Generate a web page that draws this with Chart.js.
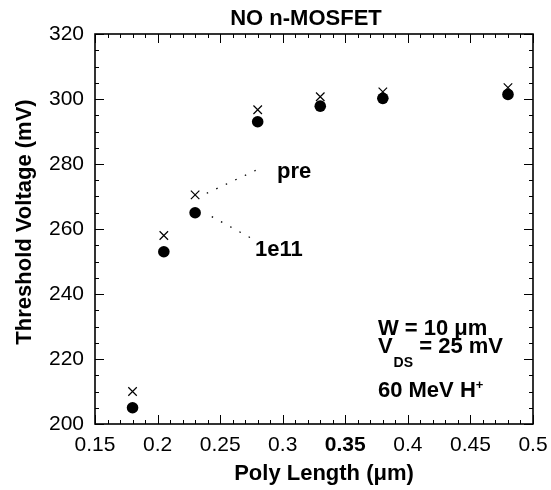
<!DOCTYPE html>
<html><head><meta charset="utf-8">
<script src="https://cdn.jsdelivr.net/npm/chart.js@4.4.1/dist/chart.umd.min.js"></script>
<style>html,body{margin:0;padding:0;background:#fff}#wrap{width:551px;height:490px}</style>
</head><body><div id="wrap"><canvas id="c" width="551" height="490"></canvas></div>
<script>
// ---- data ----
const polyLength = [0.18, 0.205, 0.23, 0.28, 0.33, 0.38, 0.48];
const vthPre     = [210, 258, 270.5, 296.7, 300.7, 302.2, 303.5];
const vth1e11    = [205, 253, 265, 293, 297.8, 300.2, 301.4];
const xTickValues = [0.15, 0.2, 0.25, 0.3, 0.35, 0.4, 0.45, 0.5];
const yTickValues = [200, 220, 240, 260, 280, 300, 320];
const preLeaderX  = [0.2393, 0.281];
const preLeaderY  = [271, 278.5];
const doseLeaderX = [0.2433, 0.2752];
const doseLeaderY = [263.8, 257.1];
const titleText = 'NO n-MOSFET';
const xTitle = 'Poly Length (\u03bcm)';
const yTitle = 'Threshold Voltage (mV)';

const FAM = '"Liberation Sans", Arial, Helvetica, sans-serif';
const toPts = (xs, ys) => xs.map((x, i) => ({x: x, y: ys[i]}));

const framePlugin = {
  id: 'frame',
  afterDraw(chart) {
    const ctx = chart.ctx, a = chart.chartArea;
    const xs = chart.scales.x, ys = chart.scales.y;
    ctx.save();
    ctx.strokeStyle = '#000';
    ctx.lineWidth = 1;
    ctx.beginPath();
    for (let i = 0; i <= 35; i++) {
      const v = 0.15 + i * 0.01;
      const px = Math.round(xs.getPixelForValue(v)) + 0.5;
      const len = (i % 5 === 0) ? 9 : 4;
      ctx.moveTo(px, a.bottom); ctx.lineTo(px, a.bottom - len);
      ctx.moveTo(px, a.top); ctx.lineTo(px, a.top + len);
    }
    for (let i = 0; i <= 24; i++) {
      const v = 200 + i * 5;
      const py = Math.round(ys.getPixelForValue(v)) + 0.5;
      const len = (i % 4 === 0) ? 9 : 4;
      ctx.moveTo(a.left, py); ctx.lineTo(a.left + len, py);
      ctx.moveTo(a.right, py); ctx.lineTo(a.right - len, py);
    }
    ctx.stroke();
    ctx.lineWidth = 1.6;
    ctx.strokeRect(a.left, a.top, a.right - a.left, a.bottom - a.top);

    ctx.fillStyle = '#000';
    ctx.font = 'bold 22px ' + FAM;
    ctx.textAlign = 'center'; ctx.textBaseline = 'alphabetic';
    ctx.fillText(titleText, 306, 25);
    ctx.fillText(xTitle, 324, 480);
    ctx.save();
    ctx.translate(31, 222); ctx.rotate(-Math.PI / 2);
    ctx.fillText(yTitle, 0, 0);
    ctx.restore();

    ctx.textAlign = 'left';
    const P = (x, y) => [xs.getPixelForValue(x), ys.getPixelForValue(y)];
    let p;
    p = P(0.2954, 275.6); ctx.fillText('pre', p[0], p[1]);
    p = P(0.2779, 251.7); ctx.fillText('1e11', p[0], p[1]);
    p = P(0.3761, 227.4); ctx.fillText('W = 10 \u03bcm', p[0], p[1]);
    p = P(0.3761, 221.75);
    ctx.fillText('V', p[0], p[1]);
    let w = ctx.measureText('V').width;
    ctx.font = 'bold 14px ' + FAM;
    ctx.fillText('DS', p[0] + w + 1, p[1] + 14);
    const w2 = ctx.measureText('DS').width;
    ctx.font = 'bold 22px ' + FAM;
    ctx.fillText(' = 25 mV', p[0] + w + w2 + 1, p[1]);
    p = P(0.3761, 208.4);
    ctx.fillText('60 MeV H', p[0], p[1]);
    w = ctx.measureText('60 MeV H').width;
    ctx.font = 'bold 13px ' + FAM;
    ctx.fillText('+', p[0] + w, p[1] - 8);
    ctx.restore();
  }
};

const tickFont = (ctx) => ({
  family: FAM, size: 21,
  weight: (ctx.tick && Math.abs(ctx.tick.value - 0.35) < 1e-6) ? 'bold' : 'normal'
});

new Chart(document.getElementById('c'), {
  type: 'scatter',
  data: {
    datasets: [
      { label: '1e11', data: toPts(polyLength, vth1e11), pointStyle: 'circle',
        pointRadius: 5.8, backgroundColor: '#000', borderColor: '#000', borderWidth: 0 },
      { label: 'pre', data: toPts(polyLength, vthPre), pointStyle: 'crossRot',
        pointRadius: 6, borderColor: '#000', backgroundColor: '#000', borderWidth: 1.2 },
      { type: 'line', label: 'preLeader', data: toPts(preLeaderX, preLeaderY),
        borderColor: '#000', borderWidth: 1.3, borderDash: [1.5, 9], pointRadius: 0, fill: false },
      { type: 'line', label: 'doseLeader', data: toPts(doseLeaderX, doseLeaderY),
        borderColor: '#000', borderWidth: 1.3, borderDash: [1.5, 9], pointRadius: 0, fill: false }
    ]
  },
  options: {
    responsive: false, animation: false, devicePixelRatio: 1,
    layout: { padding: { left: 0, top: 34, right: 18, bottom: 0 } },
    plugins: { legend: { display: false }, tooltip: { enabled: false }, title: { display: false } },
    scales: {
      x: {
        type: 'linear', position: 'bottom', min: 0.15, max: 0.5,
        afterBuildTicks: (s) => { s.ticks = xTickValues.map(v => ({ value: v })); },
        afterFit: (s) => { s.height = 66; s.paddingLeft = 0; s.paddingRight = 0; },
        grid: { display: false, drawTicks: false }, border: { display: false },
        ticks: { color: '#000', font: tickFont, padding: 9, maxRotation: 0, autoSkip: false,
          callback: (v) => String(Number(Number(v).toFixed(2))) }
      },
      y: {
        type: 'linear', position: 'left', min: 200, max: 320,
        afterBuildTicks: (s) => { s.ticks = yTickValues.map(v => ({ value: v })); },
        afterFit: (s) => { s.width = 95; s.paddingTop = 0; s.paddingBottom = 0; },
        grid: { display: false, drawTicks: false }, border: { display: false },
        ticks: { color: '#000', font: { family: FAM, size: 21 }, padding: 11, autoSkip: false,
          callback: (v) => String(v) }
      }
    }
  },
  plugins: [framePlugin]
});
</script></body></html>
